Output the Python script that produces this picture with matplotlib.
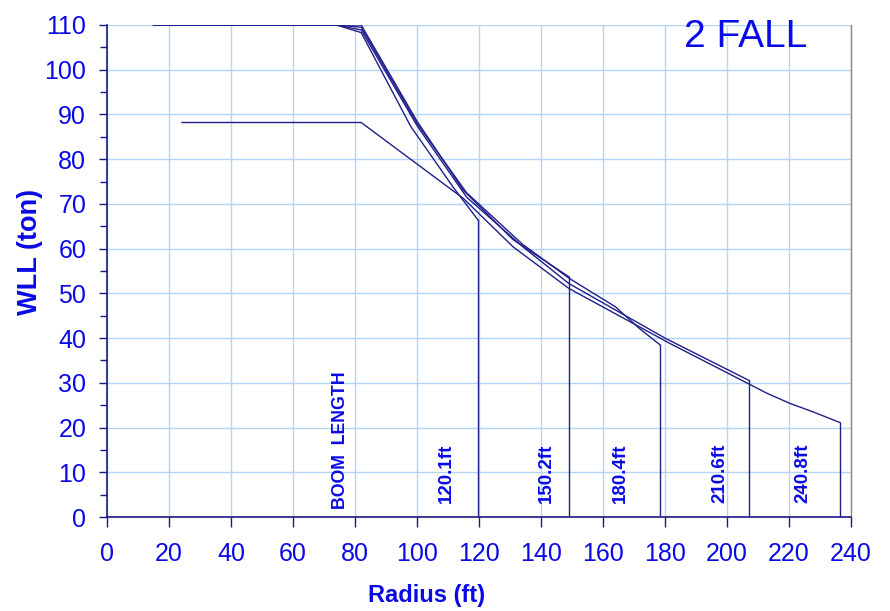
import matplotlib
matplotlib.use("Agg")
import matplotlib.pyplot as plt
from matplotlib.ticker import MultipleLocator

plt.rcParams["font.family"] = ["Liberation Sans", "DejaVu Sans"]

LINE = "#1f1f8a"
GRID = "#b3d5f7"
TEXT = "#0a0ae6"

# 载荷曲线: 半径 (ft) -> WLL (ton)，每条臂长一组
boom_120_x = [15, 74, 82, 98, 111.6, 119.7]
boom_120_y = [110, 110, 108.3, 87.3, 73.8, 66.4]

boom_150_x = [15, 74, 82, 100, 115, 131, 149]
boom_150_y = [110, 110, 110, 88.5, 73, 62, 53.7]

boom_180_x = [15, 74, 82, 100, 116, 134, 149, 164, 172, 178.4]
boom_180_y = [110, 110, 109.5, 88, 72.5, 61, 53.4, 47, 42, 38.5]

boom_210_x = [15, 74, 82, 100, 116, 134, 149, 180, 207.2]
boom_210_y = [110, 110, 108.9, 87.5, 71.5, 60.5, 52.2, 40, 30.5]

boom_240_x = [24.2, 82, 115, 131, 149, 181.6, 207.2, 212.8, 220.3, 227.8, 236.5]
boom_240_y = [88.2, 88.2, 71.2, 60.4, 51.1, 38.8, 29.7, 27.7, 25.4, 23.5, 21.1]

curves = [
    (boom_120_x, boom_120_y),
    (boom_150_x, boom_150_y),
    (boom_180_x, boom_180_y),
    (boom_210_x, boom_210_y),
    (boom_240_x, boom_240_y),
]

boom_labels = ["120.1ft", "150.2ft", "180.4ft", "210.6ft", "240.8ft"]
boom_label_x = [109.6, 141.8, 165.5, 197.7, 224.6]

x_ticks = list(range(0, 241, 20))
y_ticks = list(range(0, 111, 10))


def main():
    fig = plt.figure(figsize=(8.9, 6.11), dpi=100)
    ax = fig.add_axes([0.1202, 0.1538, 0.8360, 0.8053])

    for xs, ys in curves:
        ax.plot(xs, ys, color=LINE, linewidth=1.0, zorder=3)
        # 末端竖线落到 0
        ax.plot([xs[-1], xs[-1]], [ys[-1], 0], color=LINE, linewidth=1.0, zorder=3)

    ax.set_xlim(0, 240)
    ax.set_ylim(0, 110)
    ax.set_xticks(x_ticks)
    ax.set_yticks(y_ticks)
    ax.yaxis.set_minor_locator(MultipleLocator(5))
    ax.grid(True, color=GRID, linewidth=1.0, zorder=0)
    ax.set_axisbelow(True)

    for side in ("left", "bottom"):
        ax.spines[side].set_color("#1a1a80")
        ax.spines[side].set_linewidth(1.2)
    ax.spines["top"].set_visible(False)
    ax.spines["right"].set_color("#888888")
    ax.spines["right"].set_linewidth(1.0)

    ax.tick_params(axis="x", which="major", direction="out", length=7, width=1,
                   color="#1a1a80", labelcolor=TEXT, labelsize=18, pad=11)
    ax.tick_params(axis="y", which="major", direction="out", length=6, width=1,
                   color="#1a1a80", labelcolor=TEXT, labelsize=18, pad=9)
    ax.tick_params(axis="y", which="minor", direction="out", length=5, width=1,
                   color="#1a1a80")

    ax.text(75.2, 1.9, "BOOM  LENGTH", rotation=90, ha="center", va="bottom",
            color=TEXT, fontsize=12.8, fontweight="bold", zorder=4)
    for lx, lab in zip(boom_label_x, boom_labels):
        ax.text(lx, 3.1, lab, rotation=90, ha="center", va="bottom",
                color=TEXT, fontsize=13.5, fontweight="bold", zorder=4)

    ax.text(206, 107.4, "2 FALL", ha="center", va="center", color=TEXT,
            fontsize=28, zorder=4)

    fig.text(0.479, 0.026, "Radius (ft)", ha="center", va="center",
             color=TEXT, fontsize=17, fontweight="bold")
    fig.text(0.034, 0.5876, "WLL (ton)", ha="center", va="center", rotation=90,
             color=TEXT, fontsize=19.5, fontweight="bold")

    fig.savefig("out.png", dpi=100)
    plt.close(fig)


if __name__ == "__main__":
    main()
